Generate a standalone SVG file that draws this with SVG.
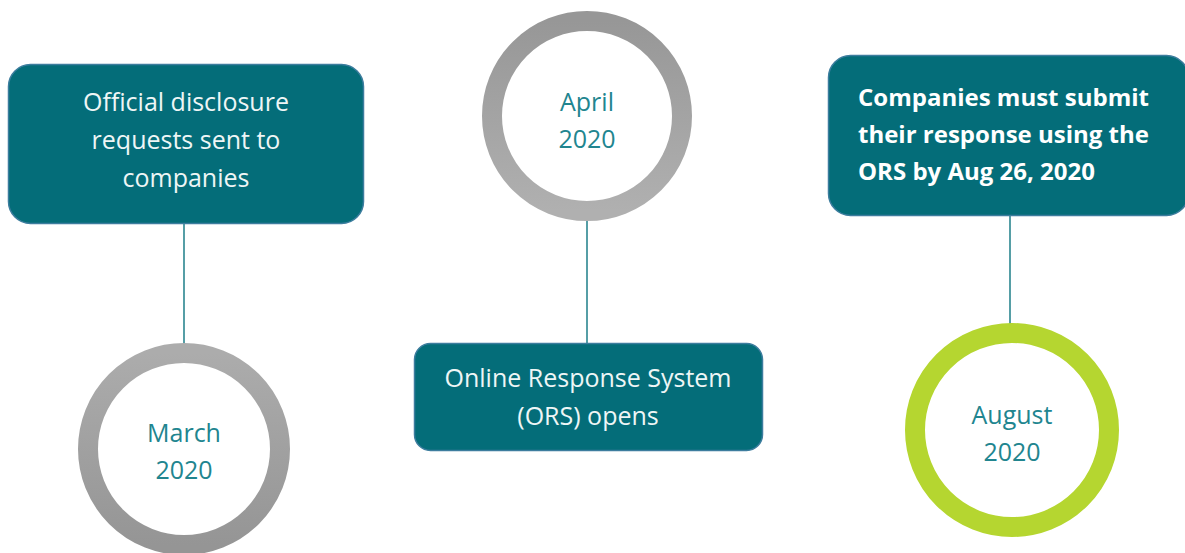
<svg xmlns="http://www.w3.org/2000/svg" width="1185" height="553" viewBox="0 0 1185 553">
<defs>
<linearGradient id="grayDown" x1="0" y1="0" x2="0" y2="1"><stop offset="0" stop-color="#acacac"/><stop offset="1" stop-color="#959595"/></linearGradient>
<linearGradient id="grayUp" x1="0" y1="0" x2="0" y2="1"><stop offset="0" stop-color="#979797"/><stop offset="1" stop-color="#b0b0b0"/></linearGradient>
</defs>
<style>
.box{fill:#046d79;stroke:#3d7d9e;stroke-width:1.5}
.bt{fill:#eef6f6;font-family:"Open Sans",Lato,sans-serif;font-size:25px;text-anchor:middle}
.bb{fill:#ffffff;font-family:"Open Sans",Lato,sans-serif;font-size:24px;font-weight:bold}
.ct{fill:#21858f;font-family:"Open Sans",Lato,sans-serif;font-size:25px;text-anchor:middle}
.ring{fill:#ffffff;stroke-width:20}
.conn{stroke:#2b8690;stroke-width:1.6;fill:none}
</style>
<rect width="1185" height="553" fill="#ffffff"/>
<g id="connectors">
<line class="conn" x1="184" y1="223" x2="184" y2="344"/>
<line class="conn" x1="587" y1="219" x2="587" y2="344"/>
<line class="conn" x1="1010" y1="215" x2="1010" y2="324"/>
</g>
<g id="box-official">
<rect class="box" x="8.5" y="64.5" width="355" height="159" rx="22"/>
<text class="bt" x="186" y="111">Official disclosure</text>
<text class="bt" x="186" y="149">requests sent to</text>
<text class="bt" x="186" y="187">companies</text>
</g>
<g id="circle-march">
<circle class="ring" cx="184" cy="449" r="96" stroke="url(#grayDown)"/>
<text class="ct" x="184" y="442">March</text>
<text class="ct" x="184" y="479">2020</text>
</g>
<g id="circle-april">
<circle class="ring" cx="587" cy="116" r="95" stroke="url(#grayUp)"/>
<text class="ct" x="587" y="111">April</text>
<text class="ct" x="587" y="148">2020</text>
</g>
<g id="box-ors">
<rect class="box" x="414.5" y="343.5" width="348" height="107" rx="16"/>
<text class="bt" x="588" y="387">Online Response System</text>
<text class="bt" x="588" y="425">(ORS) opens</text>
</g>
<g id="box-submit">
<rect class="box" x="828.5" y="55.5" width="360" height="160" rx="22"/>
<text class="bb" x="858" y="106">Companies must submit</text>
<text class="bb" x="858" y="143">their response using the</text>
<text class="bb" x="858" y="180">ORS by Aug 26, 2020</text>
</g>
<g id="circle-august">
<circle class="ring" cx="1012" cy="430" r="97" stroke="#b5d630"/>
<text class="ct" x="1012" y="424">August</text>
<text class="ct" x="1012" y="461">2020</text>
</g>
</svg>
